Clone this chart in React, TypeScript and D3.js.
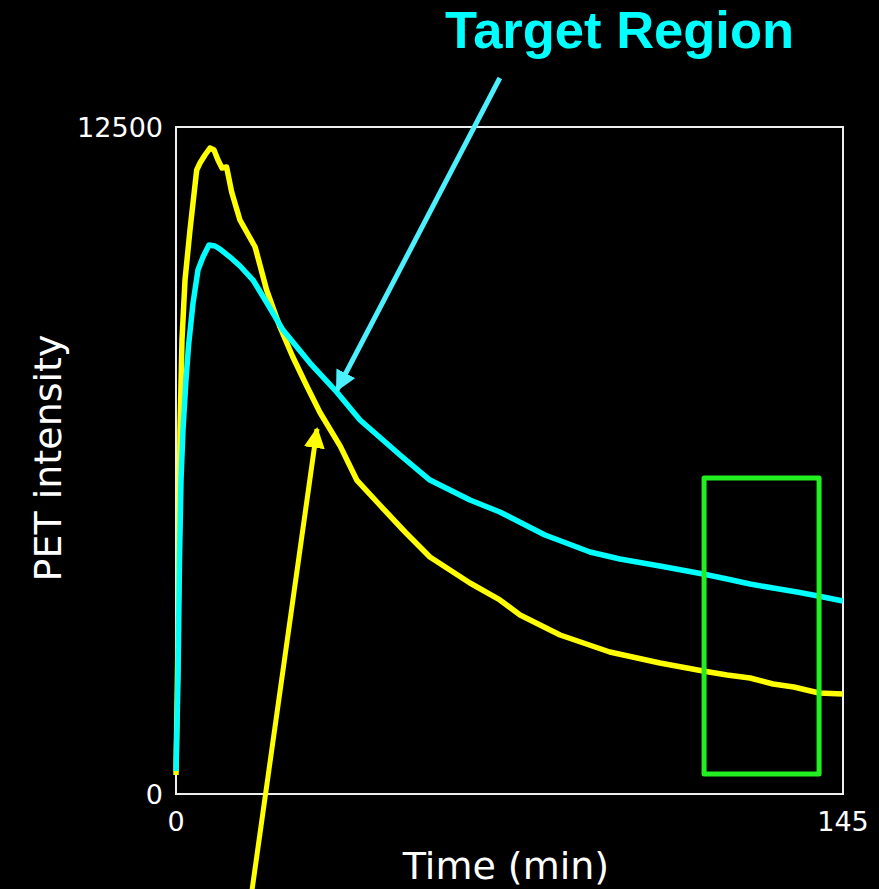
import { useEffect, useRef } from 'react'
import * as d3 from 'd3'

// time (min)
const TARGET_T = [0, 0.43, 0.76, 1.09, 1.52, 2.17, 2.72, 3.7, 4.78, 5.87, 7.17, 8.48, 9.57, 11.74, 13.91, 16.74, 19.78, 23.26, 29.13, 34.57, 40.0, 48.7, 55.2, 63.9, 70.4, 80.2, 90.0, 96.5, 105.2, 114.6, 119.8, 124.8, 129.8, 135.0, 139.6, 145]
const TARGET_V = [431, 2136, 4385, 5885, 6822, 7759, 8396, 9201, 9820, 10063, 10288, 10270, 10213, 10063, 9895, 9632, 9201, 8695, 8077, 7571, 7009, 6353, 5884, 5510, 5285, 4854, 4535, 4404, 4273, 4123, 4029, 3935, 3860, 3785, 3711, 3617]

const REF_T = [0, 0.43, 0.87, 1.3, 1.96, 3.04, 4.5, 5.22, 6.3, 7.39, 8.26, 9.13, 10.0, 11.0, 12.1, 13.9, 17.2, 19.7, 22.6, 25.4, 28.4, 31.3, 35.7, 39.3, 44.3, 49.8, 55.2, 63.9, 70.4, 74.8, 83.5, 94.3, 105.2, 114.6, 119.8, 124.8, 129.8, 134.3, 139.8, 145]
const REF_V = [356, 2886, 6822, 8508, 9632, 10569, 11694, 11825, 11975, 12106, 12069, 11881, 11731, 11750, 11282, 10757, 10251, 9445, 8752, 8189, 7650, 7150, 6520, 5884, 5416, 4910, 4441, 3954, 3636, 3355, 2980, 2661, 2455, 2305, 2230, 2174, 2061, 2005, 1893, 1874]

const X_TICKS = [0, 145]
const Y_TICKS = [0, 12500]

// annotation positions in data units: [t, v]
const CYAN_ARROW = [[70.4, 13418], [35, 7571]]
const YELLOW_ARROW = [[16.2, -2000], [30.65, 6840]]
const LATE_BOX = { t0: 114.8, t1: 139.8, v0: 375, v1: 5920 }

export default function App() {
  const svgRef = useRef<SVGSVGElement>(null)

  useEffect(() => {
    if (!svgRef.current) return
    const width = 879
    const height = 889
    const left = 176
    const right = 843
    const top = 127
    const bottom = 794

    const svg = d3.select(svgRef.current)
    svg.selectAll('*').remove()
    svg.attr('width', width).attr('height', height)

    svg.append('rect').attr('width', width).attr('height', height).attr('fill', '#000')

    const x = d3.scaleLinear([0, 145], [left, right])
    const y = d3.scaleLinear([0, 12500], [bottom, top])

    const defs = svg.append('defs')
    const marker = (id: string, color: string) =>
      defs
        .append('marker')
        .attr('id', id)
        .attr('viewBox', '0 0 10 10')
        .attr('refX', 9)
        .attr('refY', 5)
        .attr('markerWidth', 4.2)
        .attr('markerHeight', 4.2)
        .attr('markerUnits', 'strokeWidth')
        .attr('orient', 'auto')
        .append('path')
        .attr('d', 'M0,0 L10,5 L0,10 z')
        .attr('fill', color)
    marker('cyanHead', '#4cf0ff')
    marker('yellowHead', '#ffff00')

    // frame
    svg
      .append('rect')
      .attr('x', left)
      .attr('y', top)
      .attr('width', right - left)
      .attr('height', bottom - top)
      .attr('fill', 'none')
      .attr('stroke', '#eeeeee')
      .attr('stroke-width', 2)

    // tick labels
    svg
      .append('g')
      .selectAll('text')
      .data(Y_TICKS)
      .join('text')
      .attr('x', left - 13)
      .attr('y', (d) => y(d) + 10)
      .attr('text-anchor', 'end')
      .attr('fill', '#fff')
      .attr('font-family', 'DejaVu Sans')
      .attr('font-size', 27)
      .text((d) => String(d))

    svg
      .append('g')
      .selectAll('text')
      .data(X_TICKS)
      .join('text')
      .attr('x', (d) => x(d))
      .attr('y', bottom + 37)
      .attr('text-anchor', 'middle')
      .attr('fill', '#fff')
      .attr('font-family', 'DejaVu Sans')
      .attr('font-size', 27)
      .text((d) => String(d))

    // axis titles
    svg
      .append('text')
      .attr('x', 506)
      .attr('y', 879)
      .attr('text-anchor', 'middle')
      .attr('fill', '#fff')
      .attr('font-family', 'DejaVu Sans')
      .attr('font-size', 38)
      .text('Time (min)')

    svg
      .append('text')
      .attr('transform', 'translate(61,458) rotate(-90)')
      .attr('text-anchor', 'middle')
      .attr('fill', '#fff')
      .attr('font-family', 'DejaVu Sans')
      .attr('font-size', 38)
      .text('PET intensity')

    // curves
    const line = d3
      .line<[number, number]>()
      .x((d) => x(d[0]))
      .y((d) => y(d[1]))

    const refPts = REF_T.map((t, i) => [t, REF_V[i]] as [number, number])
    const targetPts = TARGET_T.map((t, i) => [t, TARGET_V[i]] as [number, number])

    svg
      .append('path')
      .attr('d', line(refPts))
      .attr('fill', 'none')
      .attr('stroke', '#ffff00')
      .attr('stroke-width', 5.5)
      .attr('stroke-linejoin', 'round')

    svg
      .append('path')
      .attr('d', line(targetPts))
      .attr('fill', 'none')
      .attr('stroke', '#00ffff')
      .attr('stroke-width', 5.5)
      .attr('stroke-linejoin', 'round')

    // late-phase box
    svg
      .append('rect')
      .attr('x', x(LATE_BOX.t0))
      .attr('y', y(LATE_BOX.v1))
      .attr('width', x(LATE_BOX.t1) - x(LATE_BOX.t0))
      .attr('height', y(LATE_BOX.v0) - y(LATE_BOX.v1))
      .attr('fill', 'none')
      .attr('stroke', '#22ee22')
      .attr('stroke-width', 5)
      .attr('stroke-linejoin', 'round')

    // arrows
    svg
      .append('path')
      .attr('d', line(CYAN_ARROW as [number, number][]))
      .attr('stroke', '#4cf0ff')
      .attr('stroke-width', 5)
      .attr('marker-end', 'url(#cyanHead)')

    svg
      .append('path')
      .attr('d', line(YELLOW_ARROW as [number, number][]))
      .attr('stroke', '#ffff00')
      .attr('stroke-width', 5)
      .attr('marker-end', 'url(#yellowHead)')

    svg
      .append('text')
      .attr('x', 445)
      .attr('y', 48)
      .attr('fill', '#00ffff')
      .attr('font-family', 'Liberation Sans, Arial, sans-serif')
      .attr('font-weight', 'bold')
      .attr('font-size', 52.5)
      .text('Target Region')
  }, [])

  return (
    <div style={{ position: 'absolute', left: 0, top: 0 }}>
      <svg ref={svgRef} style={{ display: 'block' }} />
    </div>
  )
}
